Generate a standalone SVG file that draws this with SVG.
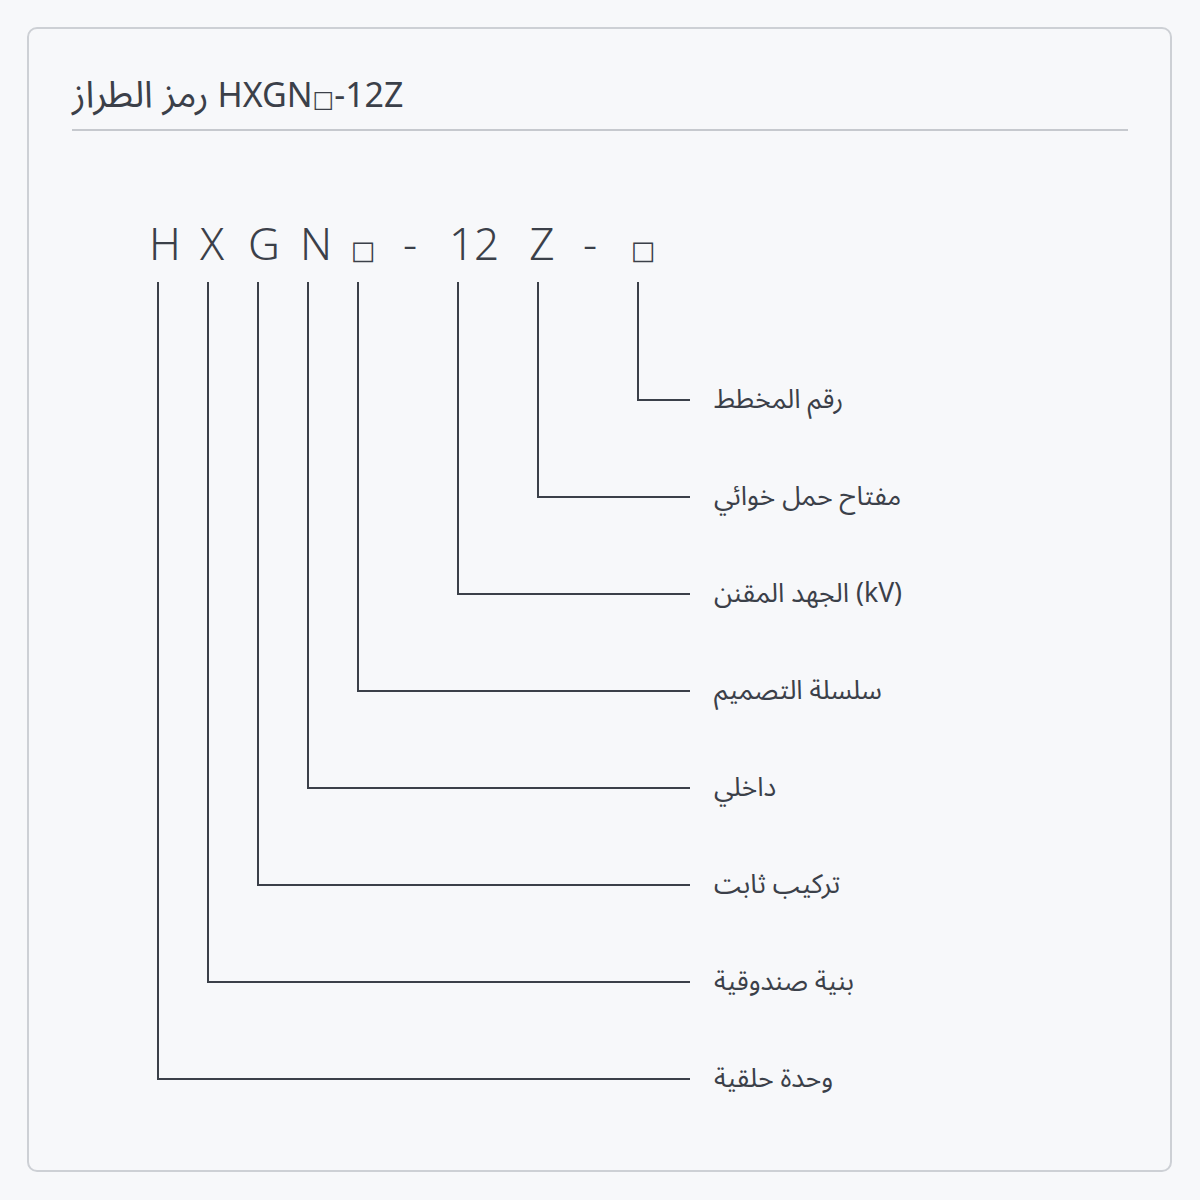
<svg xmlns="http://www.w3.org/2000/svg" width="1200" height="1200" viewBox="0 0 1200 1200">
<style>
.card{fill:#f7f8fa;stroke:#cdd0d5;stroke-width:2}
.rule{stroke:#c6c9ce;stroke-width:2}
.title{font-family:"Noto Sans","Noto Sans Arabic","DejaVu Sans",sans-serif;font-size:34px;fill:#3b4049}
.tar{font-size:37px}
.tbox{font-family:"DejaVu Sans",sans-serif;font-size:23px}
.code{font-family:"Noto Sans","DejaVu Sans",sans-serif;font-size:44px;font-weight:300;fill:#3b4049;text-anchor:middle}
.box{font-family:"DejaVu Sans","Noto Sans",sans-serif;font-size:26px;fill:#3b4049;text-anchor:middle}
.lbl{font-family:"Noto Sans","Noto Sans Arabic","DejaVu Sans",sans-serif;font-size:26.6px;fill:#3b4049}
.conn{fill:none;stroke:#3b4049;stroke-width:2}
</style>
<rect x="0" y="0" width="1200" height="1200" fill="#f7f8fa"/>
<rect class="card" x="28" y="28" width="1143" height="1143" rx="9"/>
<g id="header">
<text class="title" x="72" y="107"><tspan class="tar">رمز الطراز</tspan> HXGN<tspan class="tbox">□</tspan>-12Z</text>
<line class="rule" x1="72" y1="130" x2="1128" y2="130"/>
</g>
<g id="code">
<text class="code" x="165" y="260">H</text>
<text class="code" x="212" y="260">X</text>
<text class="code" x="264" y="260">G</text>
<text class="code" x="316" y="260">N</text>
<text class="box" x="363" y="259">□</text>
<text class="code" x="410" y="260">-</text>
<text class="code" x="474" y="260">12</text>
<text class="code" x="542" y="260">Z</text>
<text class="code" x="590" y="260">-</text>
<text class="box" x="643" y="259">□</text>
</g>
<g id="connectors">
<polyline class="conn" points="638,282 638,400 690,400"/>
<polyline class="conn" points="538,282 538,497 690,497"/>
<polyline class="conn" points="458,282 458,594 690,594"/>
<polyline class="conn" points="358,282 358,691 690,691"/>
<polyline class="conn" points="308,282 308,788 690,788"/>
<polyline class="conn" points="258,282 258,885 690,885"/>
<polyline class="conn" points="208,282 208,982 690,982"/>
<polyline class="conn" points="158,282 158,1079 690,1079"/>
</g>
<g id="label-scheme"><text class="lbl" x="714" y="408">رقم المخطط</text></g>
<g id="label-switch"><text class="lbl" x="714" y="505">مفتاح حمل خوائي</text></g>
<g id="label-voltage"><text class="lbl" x="714" y="602">الجهد المقنن (kV)</text></g>
<g id="label-series"><text class="lbl" x="714" y="699">سلسلة التصميم</text></g>
<g id="label-indoor"><text class="lbl" x="714" y="796">داخلي</text></g>
<g id="label-fixed"><text class="lbl" x="714" y="893">تركيب ثابت</text></g>
<g id="label-box"><text class="lbl" x="714" y="990">بنية صندوقية</text></g>
<g id="label-ring"><text class="lbl" x="714" y="1087">وحدة حلقية</text></g>
</svg>
